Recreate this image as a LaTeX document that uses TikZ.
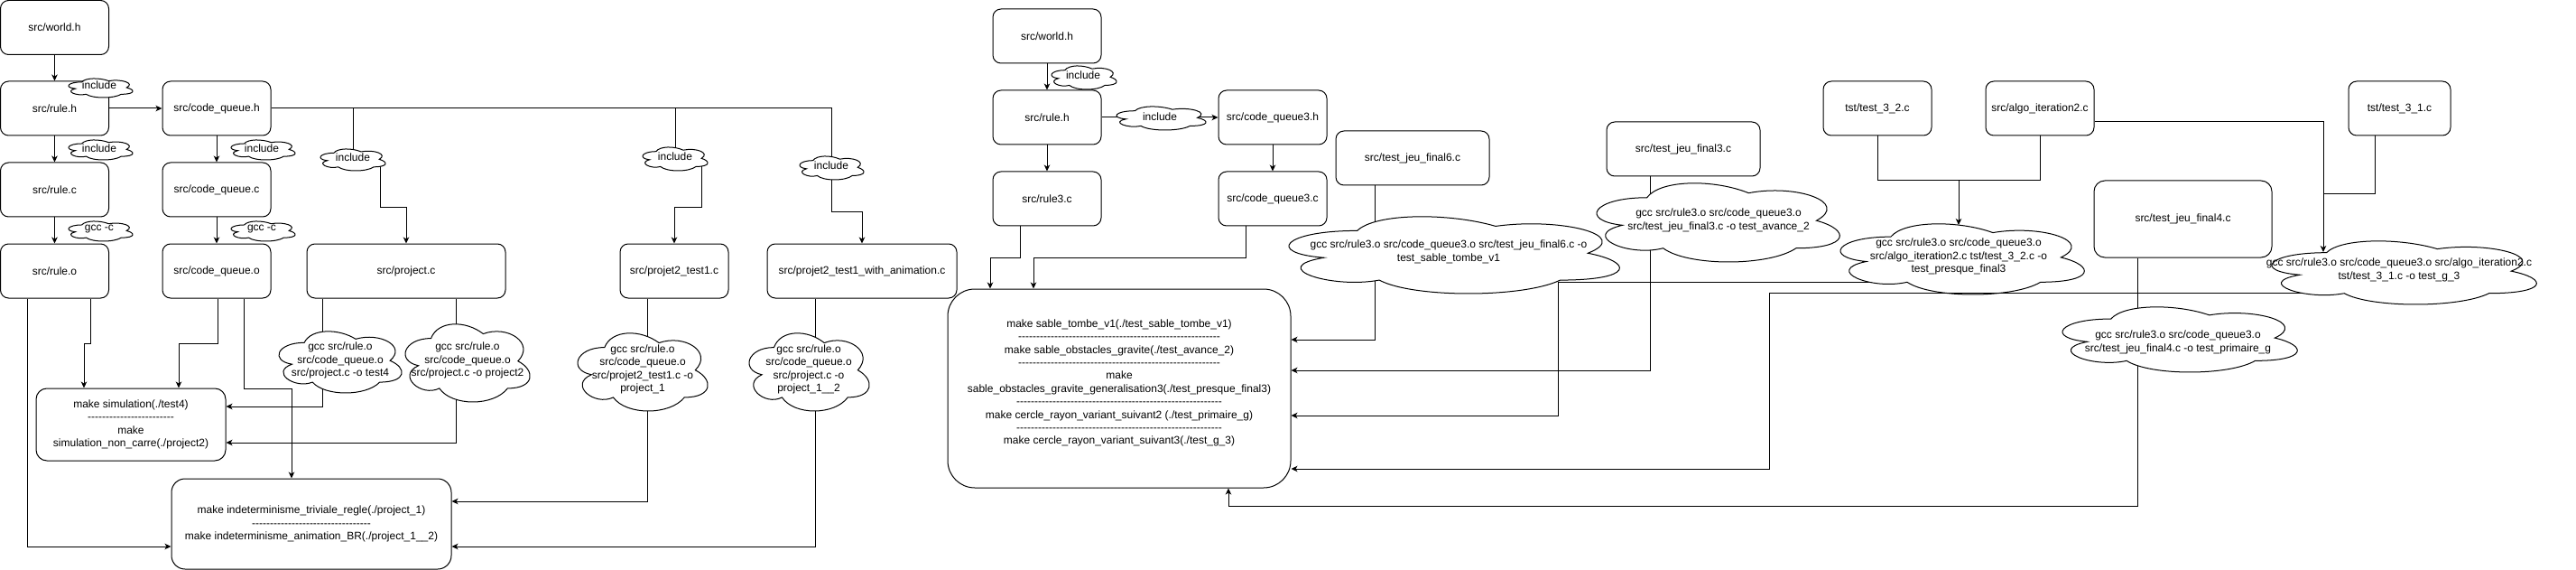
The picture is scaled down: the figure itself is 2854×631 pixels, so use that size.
\documentclass[tikz,border=0pt]{standalone}
\usepackage{fontspec}
\setmainfont{Liberation Sans}[Ligatures=TeXOff]
\usetikzlibrary{arrows.meta}
\pgfdeclarelayer{bg}
\pgfsetlayers{bg,main}
\ExplSyntaxOn
\NewDocumentCommand\mydashes{m}{\prg_replicate:nn{#1}{-}}
\ExplSyntaxOff
% name, vx0, vy0, vx1, vy1, tx, ty, text
\newcommand\mycloud[8]{%
  \pgfmathsetmacro\cw{(#4-#2)/0.895}%
  \pgfmathsetmacro\ch{(#5-#3)/0.855}%
  \pgfmathsetmacro\cx{#2-0.065*\cw}%
  \pgfmathsetmacro\cy{#3-0.095*\ch}%
  \path[cloudline,shift={(\cx,\cy)},xscale=\cw,yscale=\ch]
    (0.25,0.25) .. controls (0.05,0.25) and (0,0.5) .. (0.16,0.55)
    .. controls (0,0.66) and (0.18,0.9) .. (0.31,0.8)
    .. controls (0.4,1) and (0.7,1) .. (0.8,0.8)
    .. controls (1,0.8) and (1,0.6) .. (0.875,0.5)
    .. controls (1,0.3) and (0.8,0.1) .. (0.625,0.2)
    .. controls (0.5,0.05) and (0.3,0.05) .. (0.25,0.25) -- cycle;
  \node[cloudtext] (#1) at (#6,#7) {#8};
}
\begin{document}
\begin{tikzpicture}[x=1pt,y=-1pt,line width=1pt,
  box/.style={draw,fill=white,rounded corners=9pt,inner sep=0pt,align=center,
    font=\fontsize{12}{14.4}\selectfont,minimum width=120pt,minimum height=60pt},
  cloudline/.style={draw,fill=white,line width=1pt},
  cloudtext/.style={align=center,inner sep=0pt,font=\fontsize{12}{14.4}\selectfont},
  conn/.style={draw,line width=1pt},
  arr/.style={conn,-{Stealth[length=7pt,width=6.5pt,inset=2pt]}}]
\useasboundingbox (0,0) rectangle (2854,631);

% ---------- left group boxes
\node[box] (w1) at (60.5,30.5) {src/world.h};
\node[box] (r1) at (60.5,120) {src/rule.h};
\node[box] (cq) at (240,120) {src/code\_queue.h};
\node[box] (rc) at (60.5,210) {src/rule.c};
\node[box] (cqc) at (240,210) {src/code\_queue.c};
\node[box] (ro) at (60.5,300) {src/rule.o};
\node[box] (cqo) at (240,300) {src/code\_queue.o};
\node[box,minimum width=220pt] (pc) at (450,300) {src/project.c};
\node[box] (p2) at (747,300) {src/projet2\_test1.c};
\node[box,minimum width=210pt] (p2a) at (955,300) {src/projet2\_test1\_with\_animation.c};
\node[box,minimum width=210pt,minimum height=80pt,rounded corners=12pt] (sim) at (145,470)
  {make simulation(./test4)\\\mydashes{24}\\make\\simulation\_non\_carre(./project2)};
\node[box,minimum width=310pt,minimum height=100pt,rounded corners=15pt] (ind) at (345,580)
  {make indeterminisme\_triviale\_regle(./project\_1)\\\mydashes{33}\\make indeterminisme\_animation\_BR(./project\_1\_\_2)};

% ---------- right group boxes
\node[box] (w2) at (1160,40) {src/world.h};
\node[box] (r2) at (1160,130) {src/rule.h};
\node[box] (cq3) at (1410,130) {src/code\_queue3.h};
\node[box] (r3c) at (1160,220) {src/rule3.c};
\node[box] (cq3c) at (1410,220) {src/code\_queue3.c};
\node[box,minimum width=380pt,minimum height=220pt,rounded corners=30pt] (big) at (1240,430)
  {make sable\_tombe\_v1(./test\_sable\_tombe\_v1)\\\mydashes{56}\\
   make sable\_obstacles\_gravite(./test\_avance\_2)\\\mydashes{56}\\
   make\\sable\_obstacles\_gravite\_generalisation3(./test\_presque\_final3)\\\mydashes{57}\\
   make cercle\_rayon\_variant\_suivant2 (./test\_primaire\_g)\\\mydashes{57}\\
   make cercle\_rayon\_variant\_suivant3(./test\_g\_3)\\~};
\node[box,minimum width=170pt] (f6) at (1565,175) {src/test\_jeu\_final6.c};
\node[box,minimum width=170pt] (f3) at (1865,165) {src/test\_jeu\_final3.c};
\node[box] (t32) at (2080,120) {tst/test\_3\_2.c};
\node[box] (algo) at (2260,120) {src/algo\_iteration2.c};
\node[box,minimum width=113pt] (t31) at (2658.5,120) {tst/test\_3\_1.c};
\node[box,minimum width=197pt,minimum height=85pt,rounded corners=12pt] (f4) at (2418.5,242.5) {src/test\_jeu\_final4.c};

% ---------- clouds
\mycloud{inc1}{76}{87}{147}{108}{110}{94}{include}
\mycloud{inc2}{76}{155}{147}{177}{110}{164}{include}
\mycloud{gcc1}{76}{245}{147}{267}{110}{254}{gcc -c}
\mycloud{inc3}{256}{155}{327}{177}{290}{164}{include}
\mycloud{gcc2}{256}{245}{327}{267}{290}{254}{gcc -c}
\mycloud{inc4}{355}{165}{427}{189}{391}{174}{include}
\mycloud{inc5}{712}{163}{784}{189}{748}{173}{include}
\mycloud{inc6}{886}{173}{957}{199}{921}{183}{include}
\mycloud{inc7}{1165}{73}{1237}{99}{1200}{83}{include}
\mycloud{inc8}{1237}{118}{1336}{144}{1285}{129}{include}
\mycloud{c1}{309}{367}{445}{435}{377}{399}{gcc src/rule.o\\src/code\_queue.o\\src/project.c -o test4}
\mycloud{c2}{449}{359}{587}{445}{518}{399}{gcc src/rule.o\\src/code\_queue.o\\src/project.c -o project2}
\mycloud{c3}{640}{369}{784}{455}{712}{409}{gcc src/rule.o\\src/code\_queue.o\\src/projet2\_test1.c -o\\project\_1}
\mycloud{c4}{830}{369}{963}{455}{896}{409}{gcc src/rule.o\\src/code\_queue.o\\src/project.c -o\\project\_1\_\_2}
\mycloud{c5}{1428}{240}{1794}{325}{1605}{279}{gcc src/rule3.o src/code\_queue3.o src/test\_jeu\_final6.c -o\\test\_sable\_tombe\_v1}
\mycloud{c6}{1769}{203}{2038}{290}{1904}{244}{gcc src/rule3.o src/code\_queue3.o\\src/test\_jeu\_final3.c -o test\_avance\_2}
\mycloud{c7}{2039}{248}{2309}{326}{2170}{284}{gcc src/rule3.o src/code\_queue3.o\\src/algo\_iteration2.c tst/test\_3\_2.c -o\\test\_presque\_final3}
\mycloud{c8}{2517}{267}{2810}{337}{2658}{299}{gcc src/rule3.o src/code\_queue3.o src/algo\_iteration2.c\\tst/test\_3\_1.c -o test\_g\_3}
\mycloud{c9}{2285}{340}{2545}{412}{2413}{379}{gcc src/rule3.o src/code\_queue3.o\\src/test\_jeu\_final4.c -o test\_primaire\_g}

\coordinate (J1) at (2170,200);
\coordinate (c7in) at (2170,249);
\coordinate (c8in) at (2574,279);
\coordinate (c8out) at (2550,324);

% ---------- connectors (behind clouds)
\begin{pgfonlayer}{bg}
\draw[arr] (w1) -- (r1);
\draw[arr] (r1) -- (cq);
\draw[arr] (r1) -- (rc);
\draw[arr] (rc) -- (ro);
\draw[arr] (cq) -- (cqc);
\draw[arr] (cqc) -- (cqo);
\draw[conn] (cq.east) -| (inc4.center);
\draw[conn] (cq.east) -| (inc5.center);
\draw[conn] (cq.east) -| (inc6.center);
\draw[arr] (inc4.center -| 421,0) -- (421,230) -| (pc.north);
\draw[arr] (inc5.center -| 777,0) -- (777,230) -| (p2.north);
\draw[arr] (inc6.center) |- (p2a.north |- 0,235) -- (p2a.north);
\draw[arr] (ro.south -| 100,0) -- (100,380) -| (sim.north -| 93,0);
\draw[arr] (cqo.south -| 241,0) -- (241,380) -| (sim.north -| 198,0);
\draw[arr] (ro.south -| 30,0) |- (ind.west |- 0,605);
\draw[arr] (cqo.south -| 270,0) -- (270,430) -| (ind.north -| 323,0);
\draw[conn] (pc.south -| 357,0) -- (c1.center -| 357,0);
\draw[arr] (c1.center -| 357,0) |- (sim.east |- 0,450);
\draw[conn] (pc.south -| 505,0) -- (c2.center -| 505,0);
\draw[arr] (c2.center -| 505,0) |- (sim.east |- 0,490);
\draw[conn] (p2.south -| 717,0) -- (c3.center -| 717,0);
\draw[arr] (c3.center -| 717,0) |- (ind.east |- 0,555);
\draw[conn] (p2a.south -| 903,0) -- (c4.center -| 903,0);
\draw[arr] (c4.center -| 903,0) |- (ind.east |- 0,605);

\draw[arr] (w2) -- (r2);
\draw[arr] (r2) -- (cq3);
\draw[arr] (r2) -- (r3c);
\draw[arr] (cq3) -- (cq3c);
\draw[arr] (r3c.south -| 1130,0) -- (1130,285) -| (big.north -| 1097,0);
\draw[arr] (cq3c.south -| 1380,0) -- (1380,285) -| (big.north -| 1145,0);
\draw[conn] (f6.south -| 1523,0) -- (c5.center -| 1523,0);
\draw[arr] (c5.center -| 1523,0) |- (big.east |- 0,376);
\draw[conn] (f3.south -| 1828,0) -- (c6.center -| 1828,0);
\draw[arr] (c6.center -| 1828,0) |- (big.east |- 0,410);
\draw[conn] (t32.south) |- (J1);
\draw[conn] (algo.south) |- (J1);
\draw[arr] (J1) -- (c7in);
\draw[arr] (c7.center |- 0,312) -- (1726,312) |- (big.east |- 0,460);
\draw[arr] (algo.east |- 0,135) -| (c8in);
\draw[conn] (t31.south -| 2631,0) |- (c8in |- 0,215);
\draw[conn] (f4.south -| 2368,0) -- (c9.center -| 2368,0);
\draw[arr] (c9.center -| 2368,0) -- (2368,560) -| (big.south -| 1361,0);
\end{pgfonlayer}
% connector drawn over the clouds
\draw[arr] (c8out) -- (1960,324) |- (big.east |- 0,519);
\end{tikzpicture}
\end{document}
